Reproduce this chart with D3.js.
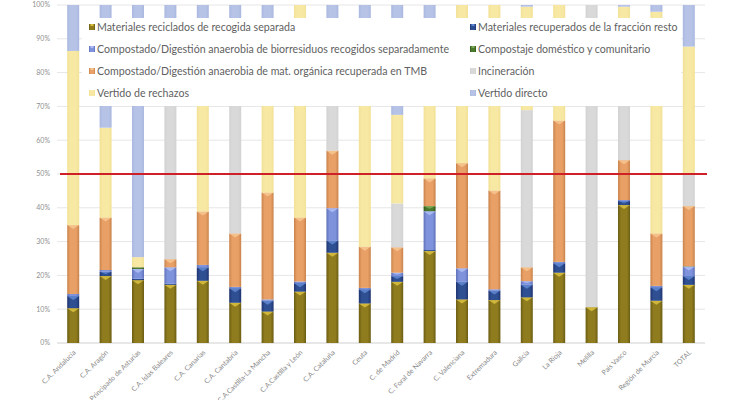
<!DOCTYPE html>
<html>
<head>
<meta charset="utf-8">
<script src="https://cdn.jsdelivr.net/npm/d3@7"></script>
<style>
  html, body { margin: 0; padding: 0; background: #ffffff; }
  svg { display: block; }
</style>
</head>
<body>
<svg id="chart" width="732" height="400"></svg>
<script>
// ---------- DATA ----------
const categories = [
  "C.A. Andalucía", "C.A. Aragón", "C.A. Principado de Asturias", "C.A. Islas Baleares",
  "C.A. Canarias", "C.A. Cantabria", "C.A.Castilla-La Mancha", "C.A.Castilla y León",
  "C.A. Cataluña", "Ceuta", "C. de Madrid", "C. Foral de Navarra", "C. Valenciana",
  "Extremadura", "Galicia", "La Rioja", "Melilla", "País Vasco", "Región de Murcia", "TOTAL"
];
const seriesNames = [
  "Materiales reciclados de recogida separada",
  "Materiales recuperados de la fracción resto",
  "Compostado/Digestión anaerobia de biorresiduos recogidos separadamente",
  "Compostaje doméstico y comunitario",
  "Compostado/Digestión anaerobia de mat. orgánica recuperada en TMB",
  "Incineración",
  "Vertido de rechazos",
  "Vertido directo"
];
const reciclados   = [10.3, 19.8, 18.6, 17.2, 18.4, 11.9,  9.3, 15.2, 26.7, 11.7, 18.1, 27.2, 12.9, 12.7, 13.5, 20.8, 10.6, 40.8, 12.5, 17.2];
const recuperados  = [ 3.6,  1.3,  0.4,  0.3,  4.0,  4.3,  3.2,  2.5,  3.6,  4.2,  1.7,  0.3,  5.2,  2.8,  3.7,  2.8,  0.0,  1.2,  4.0,  2.6];
const biorresiduos = [ 0.6,  0.5,  2.9,  4.9,  0.7,  0.4,  0.4,  0.5,  9.6,  0.4,  1.0, 11.5,  4.0,  0.4,  1.1,  0.4,  0.0,  0.3,  0.4,  2.8];
const domestico    = [ 0.0,  0.0,  0.5,  0.0,  0.0,  0.0,  0.0,  0.0,  0.0,  0.0,  0.0,  1.5,  0.0,  0.0,  0.0,  0.0,  0.0,  0.0,  0.0,  0.1];
const tmb          = [20.4, 15.5,  0.0,  2.4, 15.8, 15.8, 31.6, 18.9, 17.0, 12.2,  7.5,  8.2, 31.1, 29.2,  4.1, 41.8,  0.0, 11.8, 15.5, 17.8];
const incineracion = [ 0.0,  0.0,  0.0, 71.2,  0.0, 63.6,  0.0,  0.0, 39.1,  0.0, 13.0,  0.0,  0.0,  0.0, 46.5,  0.0, 89.4, 30.0,  0.0,  9.2];
const rechazos     = [51.5, 26.6,  3.0,  0.0, 57.1,  0.0, 51.5, 62.9,  0.0, 67.5, 26.2, 47.3, 46.8, 54.9, 30.6, 34.2,  0.0, 15.4, 65.6, 38.0];
const directo      = [13.6, 36.3, 74.6,  4.0,  4.0,  4.0,  4.0,  0.0,  4.0,  4.0, 32.5,  4.0,  0.0,  0.0,  0.5,  0.0,  0.0,  0.5,  2.0, 12.3];
const yTicks = [0, 10, 20, 30, 40, 50, 60, 70, 80, 90, 100];
const referenceLine = 50;

const seriesValues = [reciclados, recuperados, biorresiduos, domestico, tmb, incineracion, rechazos, directo];
const seriesColors = [
  { base: "#8f7c1f", dark: "#6b5c12", light: "#d7bd3c" },
  { base: "#2f4f93", dark: "#1f3470", light: "#5f85d0" },
  { base: "#7f93dc", dark: "#5f71b8", light: "#aebcf2" },
  { base: "#4b7a2c", dark: "#345a1c", light: "#79a856" },
  { base: "#e8a066", dark: "#c9834b", light: "#f6c48f" },
  { base: "#d9d9d9", dark: "#d2d2d2", light: "#e4e4e4" },
  { base: "#f7e8a4", dark: "#f2e196", light: "#faefbf" },
  { base: "#b6c3e7", dark: "#aab8e0", light: "#c8d3ef" }
];

// ---------- LAYOUT ----------
const svg = d3.select("#chart");
const plot = { left: 57, right: 705, top: 5, bottom: 343 };

const x = d3.scaleBand().domain(categories).range([plot.left, plot.right])
  .paddingInner(0.63).paddingOuter(0.315);
const y = d3.scaleLinear().domain([0, 100]).range([plot.bottom, plot.top]);

// gradients
const defs = svg.append("defs");
seriesColors.forEach((c, i) => {
  const g = defs.append("linearGradient").attr("id", "g" + i)
    .attr("x1", "0").attr("x2", "1").attr("y1", "0").attr("y2", "0");
  g.append("stop").attr("offset", "0%").attr("stop-color", c.dark);
  g.append("stop").attr("offset", "25%").attr("stop-color", c.base);
  g.append("stop").attr("offset", "75%").attr("stop-color", c.base);
  g.append("stop").attr("offset", "100%").attr("stop-color", c.dark);
});

// gridlines
svg.append("g").selectAll("line").data(yTicks).join("line")
  .attr("x1", plot.left).attr("x2", plot.right)
  .attr("y1", d => y(d)).attr("y2", d => y(d))
  .attr("stroke", d => d === 0 ? "#d0d0d0" : "#e6e6e6").attr("stroke-width", 1);

// y tick labels
svg.append("g").selectAll("text").data(yTicks).join("text")
  .attr("x", 50).attr("y", d => y(d)).attr("dy", "0.35em")
  .attr("text-anchor", "end")
  .attr("font-family", "Lato, 'Open Sans', sans-serif")
  .attr("font-size", 7).attr("fill", "#909090")
  .text(d => d + "%");

// stacked data
const rows = categories.map((cat, i) => {
  const r = { cat };
  seriesValues.forEach((arr, s) => { r["s" + s] = arr[i]; });
  return r;
});
const stack = d3.stack().keys(seriesValues.map((_, s) => "s" + s));
const stacked = stack(rows);

const bw = x.bandwidth();
const layers = svg.append("g").selectAll("g").data(stacked).join("g");
layers.each(function (layer, s) {
  const g = d3.select(this);
  const segs = layer.filter(d => d[1] - d[0] > 0);
  g.selectAll("rect").data(segs).join("rect")
    .attr("x", d => x(d.data.cat))
    .attr("y", d => y(d[1]))
    .attr("width", bw)
    .attr("height", d => y(d[0]) - y(d[1]))
    .attr("fill", "url(#g" + s + ")");
  // bevel chevron at top of each segment
  g.selectAll("path").data(segs.filter(d => y(d[0]) - y(d[1]) > 3 && s < 5)).join("path")
    .attr("d", d => {
      const x0 = x(d.data.cat), y0 = y(d[1]);
      const h = Math.min(4, (y(d[0]) - y(d[1])) / 2);
      return `M${x0},${y0}L${x0 + bw},${y0}L${x0 + bw / 2},${y0 + h}Z`;
    })
    .attr("fill", seriesColors[s].light).attr("opacity", 0.9);
});

// x labels
svg.append("g").selectAll("text").data(categories).join("text")
  .attr("transform", d => `translate(${x(d) + bw / 2 + 3},${plot.bottom + 10}) rotate(-45)`)
  .attr("text-anchor", "end")
  .attr("font-family", "Lato, 'Open Sans', sans-serif")
  .attr("font-size", 7).attr("fill", "#8a8a8a")
  .text(d => d);

// red reference line
svg.append("line")
  .attr("x1", plot.left + 3).attr("x2", plot.right + 2)
  .attr("y1", y(referenceLine)).attr("y2", y(referenceLine))
  .attr("stroke", "#cf2027").attr("stroke-width", 2);

// legend
const legend = svg.append("g");
legend.append("rect").attr("x", 82).attr("y", 18).attr("width", 599).attr("height", 88)
  .attr("fill", "#ffffff");
const legendPos = [
  [0, 0], [1, 0], [0, 1], [1, 1], [0, 2], [1, 2], [0, 3], [1, 3]
];
const colX = [89, 470];
const rowY = [27, 49, 71, 93];
seriesNames.forEach((name, i) => {
  const [c, r] = legendPos[i];
  const gi = legend.append("g").attr("transform", `translate(${colX[c]},${rowY[r]})`);
  gi.append("rect").attr("x", 0).attr("y", -3).attr("width", 6).attr("height", 6)
    .attr("fill", "url(#g" + i + ")");
  if (i < 5) gi.append("rect").attr("x", 1.5).attr("y", -3).attr("width", 3).attr("height", 2)
    .attr("fill", seriesColors[i].light);
  gi.append("text").attr("x", 8).attr("dy", "0.35em")
    .attr("font-family", "Lato, 'Open Sans', sans-serif")
    .attr("font-size", 10.6).attr("fill", "#5f5f5f")
    .text(name);
});
</script>
</body>
</html>
